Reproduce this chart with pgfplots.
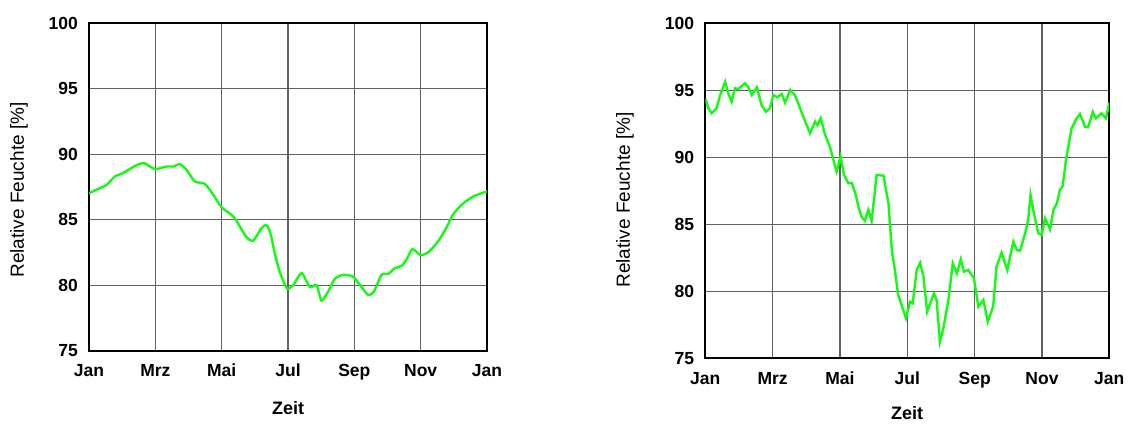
\documentclass[border=0pt]{standalone}
\usepackage{pgfplots}
\pgfplotsset{compat=1.18}
\usepackage{fontspec}
\setmainfont{Liberation Sans}
\definecolor{lgreen}{RGB}{20,250,20}
\pgfplotsset{
  myaxis/.style={
    scale only axis,
    xmin=0, xmax=12, ymin=75, ymax=100,
    xtick={0,2,...,12},
    xticklabels={Jan,Mrz,Mai,Jul,Sep,Nov,Jan},
    ytick={75,80,...,100},
    grid=major,
    major grid style={line width=1.3pt, black!62},
    axis line style={line width=2pt},
    major tick length=0pt,
    tick label style={font=\bfseries\fontsize{17.5}{20}\selectfont},
    /pgf/number format/assume math mode=true,
    yticklabel style={anchor=east, inner sep=0pt, xshift=-11pt},
    xticklabel style={anchor=base, inner sep=0pt, yshift=-25pt},
  }
}
\begin{document}
\begin{tikzpicture}[x=1pt,y=1pt]
\path[use as bounding box] (0,0) rectangle (1129,423);
\begin{axis}[myaxis, width=398pt, height=328pt, at={(89pt,72pt)}, anchor=south west]
\addplot[lgreen, line width=2.4pt, smooth, tension=0.4] coordinates {
(0,87.03) (0.33,87.41) (0.53,87.66) (0.78,88.3) (1.03,88.56) (1.39,89.11) (1.66,89.32)
(1.99,88.86) (2.34,89.06) (2.54,89.06) (2.74,89.24) (2.94,88.81) (3.19,87.92) (3.49,87.74)
(3.75,86.9) (4.0,85.95) (4.35,85.25) (4.55,84.48) (4.75,83.67) (4.95,83.41) (5.2,84.36)
(5.35,84.61) (5.47,83.98) (5.6,82.45) (5.75,81.05) (5.97,79.78) (6.16,80.03) (6.41,80.93)
(6.66,79.86) (6.86,80.03) (7.01,78.84) (7.21,79.52) (7.41,80.49) (7.66,80.8) (7.96,80.67)
(8.22,79.86) (8.42,79.27) (8.59,79.52) (8.82,80.8) (9.02,80.87) (9.22,81.31) (9.42,81.48)
(9.57,81.94) (9.75,82.76) (9.99,82.32) (10.22,82.5) (10.52,83.34) (10.77,84.36) (10.97,85.38)
(11.25,86.18) (11.58,86.77) (11.98,87.15) (12,87.17)
};
\end{axis}
\begin{axis}[myaxis, width=404pt, height=335pt, at={(705.3pt,64.7pt)}, anchor=south west, xticklabel style={yshift=-0.7pt}]
\addplot[lgreen, line width=2.4pt] coordinates {
(0,94.4) (0.09,93.66) (0.19,93.28) (0.34,93.66) (0.44,94.65) (0.59,95.64) (0.68,94.78)
(0.78,94.15) (0.88,95.15) (0.98,95.1) (1.18,95.52) (1.28,95.22) (1.38,94.65) (1.53,95.22)
(1.67,93.9) (1.8,93.4) (1.92,93.66) (2.02,94.65) (2.14,94.48) (2.27,94.72) (2.37,94.07)
(2.52,95.02) (2.66,94.65) (2.76,94.03) (2.91,93.03) (3.11,91.79) (3.26,92.66) (3.33,92.41)
(3.43,92.91) (3.56,91.66) (3.7,90.79) (3.9,88.93) (4.02,90.05) (4.12,88.68) (4.25,88.06)
(4.35,88.1) (4.47,87.19) (4.56,86.2) (4.64,85.57) (4.74,85.27) (4.84,86.07) (4.94,85.27)
(5.09,88.68) (5.29,88.63) (5.44,86.57) (5.54,83.08) (5.63,81.59) (5.73,79.72) (5.96,77.99)
(6.08,79.22) (6.16,79.1) (6.28,81.59) (6.38,82.13) (6.48,81.09) (6.59,78.48) (6.79,79.85)
(6.87,79.35) (6.97,76.24) (7.07,77.24) (7.22,79.35) (7.35,82.09) (7.47,81.34) (7.59,82.39)
(7.68,81.46) (7.81,81.59) (7.98,80.97) (8.11,78.85) (8.26,79.35) (8.39,77.73) (8.55,78.85)
(8.65,81.84) (8.8,82.88) (8.97,81.59) (9.15,83.7) (9.25,83.08) (9.35,83.03) (9.5,84.33)
(9.59,85.32) (9.66,87.19) (9.74,86.07) (9.89,84.33) (9.99,84.2) (10.09,85.45) (10.24,84.63)
(10.34,86.07) (10.45,86.6) (10.53,87.56) (10.61,87.81) (10.73,90.05) (10.88,92.16) (11.03,92.91)
(11.13,93.23) (11.28,92.28) (11.37,92.24) (11.51,93.4) (11.6,92.91) (11.77,93.28) (11.9,92.91)
(12,94.07)
};
\end{axis}
\node[rotate=90, font=\fontsize{19}{22}\selectfont] at (19,233) {Relative Feuchte [\%]};
\node[rotate=90, font=\fontsize{19}{22}\selectfont] at (625,223) {Relative Feuchte [\%]};
\node[font=\bfseries\fontsize{18}{21}\selectfont] at (288,15) {Zeit};
\node[font=\bfseries\fontsize{18}{21}\selectfont] at (907,10) {Zeit};
\end{tikzpicture}
\end{document}
